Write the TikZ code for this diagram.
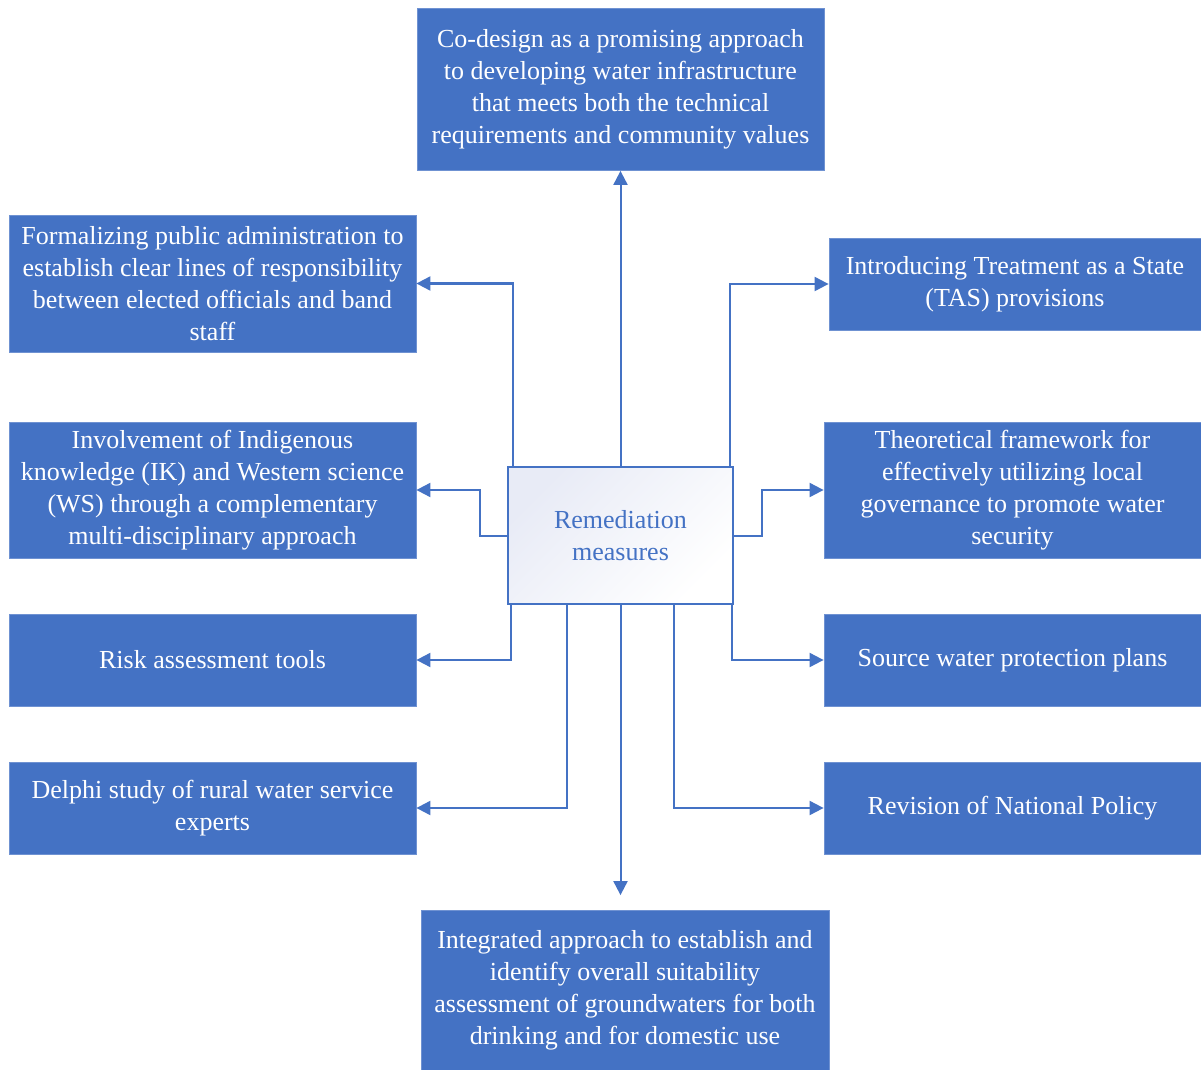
\documentclass[tikz,border=0pt]{standalone}
\usepackage{fontspec}
\setmainfont{Liberation Serif}
\usepackage{xcolor}
\usepackage{tikz}
\usetikzlibrary{arrows.meta,positioning,calc}

\definecolor{boxblue}{HTML}{4472C4}
\definecolor{edgeblue}{HTML}{6F92D2}
\definecolor{shadeblue}{HTML}{E8EBF6}

\begin{document}
\begin{tikzpicture}[
            x=0.5pt, y=-0.5pt,
            box/.style={draw=edgeblue, line width=0.4pt, fill=boxblue, text=white, rectangle,
                 align=center, inner sep=0pt, font=\fontsize{13}{16}\selectfont},
            hub/.style={draw=boxblue, line width=1pt, rectangle, top color=shadeblue, bottom color=white,
                 shading angle=45, text=boxblue, align=center, inner sep=0pt,
                 minimum width=112.5pt, minimum height=68.5pt, font=\fontsize{13}{16}\selectfont},
            link/.style={draw=boxblue, line width=1pt, -{Triangle[length=7pt,width=7pt]}}
            ]
            \useasboundingbox (0,0) rectangle (1201,1070);

            % Nodes with manual coordinates
            \node[hub] (rm) at (620.5,535.5) {Remediation\\measures};
            \node[box, minimum width=203.5pt, minimum height=81pt] (codes) at (620.5,89.5)
                {Co-design as a promising approach\\to developing water infrastructure\\that meets both the technical\\requirements and community values};
            \node[box, minimum width=203.5pt, minimum height=68.5pt] (admin) at (212.5,283.5)
                {Formalizing public administration to\\establish clear lines of responsibility\\between elected officials and band\\staff};
            \node[box, minimum width=203.5pt, minimum height=68pt] (ik) at (212.5,490)
                {Involvement of Indigenous\\knowledge (IK) and Western science\\(WS) through a complementary\\multi-disciplinary approach};
            \node[box, minimum width=203.5pt, minimum height=46pt] (risk) at (212.5,660)
                {Risk assessment tools};
            \node[box, minimum width=203.5pt, minimum height=46pt] (delphi) at (212.5,808)
                {Delphi study of rural water service\\experts};
            \node[box, minimum width=186pt, minimum height=46pt] (tas) at (1015,284)
                {Introducing Treatment as a State\\(TAS) provisions};
            \node[box, minimum width=188.5pt, minimum height=68pt] (gov) at (1012.5,490)
                {Theoretical framework for\\effectively utilizing local\\governance to promote water\\security};
            \node[box, minimum width=188.5pt, minimum height=46pt] (swp) at (1012.5,660)
                {Source water protection plans};
            \node[box, minimum width=188.5pt, minimum height=46pt] (nat) at (1012.5,808)
                {Revision of National Policy};
            \node[box, minimum width=204pt, minimum height=80pt] (integ) at (625,990.5)
                {Integrated approach to establish and\\identify overall suitability\\assessment of groundwaters for both\\drinking and for domestic use};

            % Arrows
            \draw[link] (rm.north) -- (codes.south);
            \draw[link] ([xshift=3pt]rm.north west) |- (admin.east);
            \draw[link] (rm.west) -- ++(-13.5pt,0) |- (ik.east);
            \draw[link] ([xshift=2pt]rm.south west) |- (risk.east);
            \draw[link] ([xshift=30pt]rm.south west) |- (delphi.east);
            \draw[link] ([xshift=-2pt]rm.north east) |- (tas.west);
            \draw[link] (rm.east) -- ++(14pt,0) |- (gov.west);
            \draw[link] ([xshift=-1pt]rm.south east) |- (swp.west);
            \draw[link] ([xshift=26.5pt]rm.south) |- (nat.west);
            \draw[link] (rm.south) -- ([yshift=7.5pt]rm.south |- integ.north);
        \end{tikzpicture}
\end{document}
